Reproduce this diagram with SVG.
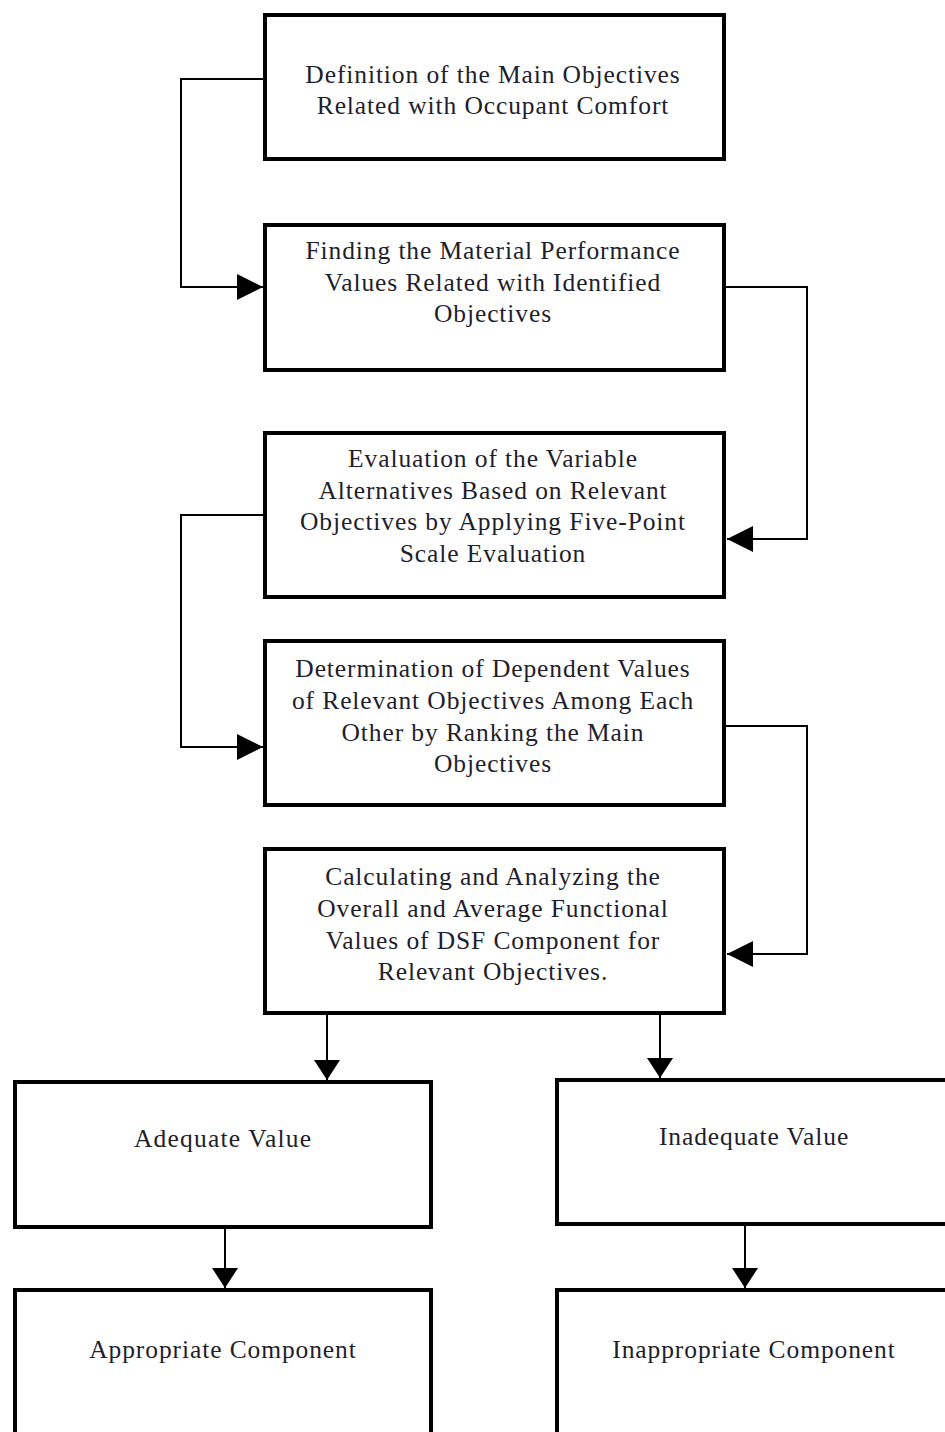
<svg xmlns="http://www.w3.org/2000/svg" width="945" height="1432" viewBox="0 0 945 1432">
<style>
.box{fill:#fff;stroke:#000;stroke-width:4}
.t{font-family:"Liberation Serif","Times New Roman",serif;font-size:25.5px;letter-spacing:0.9px;fill:#1e1e2c;text-anchor:middle}
.c{fill:none;stroke:#000;stroke-width:2}
</style>
<defs>
<marker id="ah" markerUnits="userSpaceOnUse" markerWidth="28" markerHeight="26" refX="26" refY="13" orient="auto">
<path d="M0,0 L26,13 L0,26 Z" fill="#000"/>
</marker>
<marker id="ad" markerUnits="userSpaceOnUse" markerWidth="22" markerHeight="26" refX="20" refY="13" orient="auto">
<path d="M0,0 L20,13 L0,26 Z" fill="#000"/>
</marker>
</defs>
<g id="connectors">
<path class="c" d="M263,79 H181 V287 H263" marker-end="url(#ah)"/>
<path class="c" d="M724,287 H807 V539 H727" marker-end="url(#ah)"/>
<path class="c" d="M263,515 H181 V747 H263" marker-end="url(#ah)"/>
<path class="c" d="M724,726 H807 V954 H727" marker-end="url(#ah)"/>
<path class="c" d="M327,1014 V1080" marker-end="url(#ad)"/>
<path class="c" d="M660,1014 V1078" marker-end="url(#ad)"/>
<path class="c" d="M225,1227 V1288" marker-end="url(#ad)"/>
<path class="c" d="M745,1224 V1288" marker-end="url(#ad)"/>
</g>
<g id="n1"><rect class="box" x="265" y="15" width="459" height="144"/>
<text class="t" x="493" y="83">Definition of the Main Objectives</text>
<text class="t" x="493" y="114">Related with Occupant Comfort</text></g>
<g id="n2"><rect class="box" x="265" y="225" width="459" height="145"/>
<text class="t" x="493" y="259">Finding the Material Performance</text>
<text class="t" x="493" y="291">Values Related with Identified</text>
<text class="t" x="493" y="322">Objectives</text></g>
<g id="n3"><rect class="box" x="265" y="433" width="459" height="164"/>
<text class="t" x="493" y="467">Evaluation of the Variable</text>
<text class="t" x="493" y="499">Alternatives Based on Relevant</text>
<text class="t" x="493" y="530">Objectives by Applying Five-Point</text>
<text class="t" x="493" y="562">Scale Evaluation</text></g>
<g id="n4"><rect class="box" x="265" y="641" width="459" height="164"/>
<text class="t" x="493" y="677">Determination of Dependent Values</text>
<text class="t" x="493" y="709">of Relevant Objectives Among Each</text>
<text class="t" x="493" y="741">Other by Ranking the Main</text>
<text class="t" x="493" y="772">Objectives</text></g>
<g id="n5"><rect class="box" x="265" y="849" width="459" height="164"/>
<text class="t" x="493" y="885">Calculating and Analyzing the</text>
<text class="t" x="493" y="917">Overall and Average Functional</text>
<text class="t" x="493" y="949">Values of DSF Component for</text>
<text class="t" x="493" y="980">Relevant Objectives.</text></g>
<g id="n6"><rect class="box" x="15" y="1082" width="416" height="145"/>
<text class="t" x="223" y="1147" textLength="178" lengthAdjust="spacing">Adequate Value</text></g>
<g id="n7"><rect class="box" x="557" y="1080" width="400" height="144"/>
<text class="t" x="754" y="1145">Inadequate Value</text></g>
<g id="n8"><rect class="box" x="15" y="1290" width="416" height="160"/>
<text class="t" x="223" y="1358">Appropriate Component</text></g>
<g id="n9"><rect class="box" x="557" y="1290" width="400" height="160"/>
<text class="t" x="754" y="1358">Inappropriate Component</text></g>
</svg>
